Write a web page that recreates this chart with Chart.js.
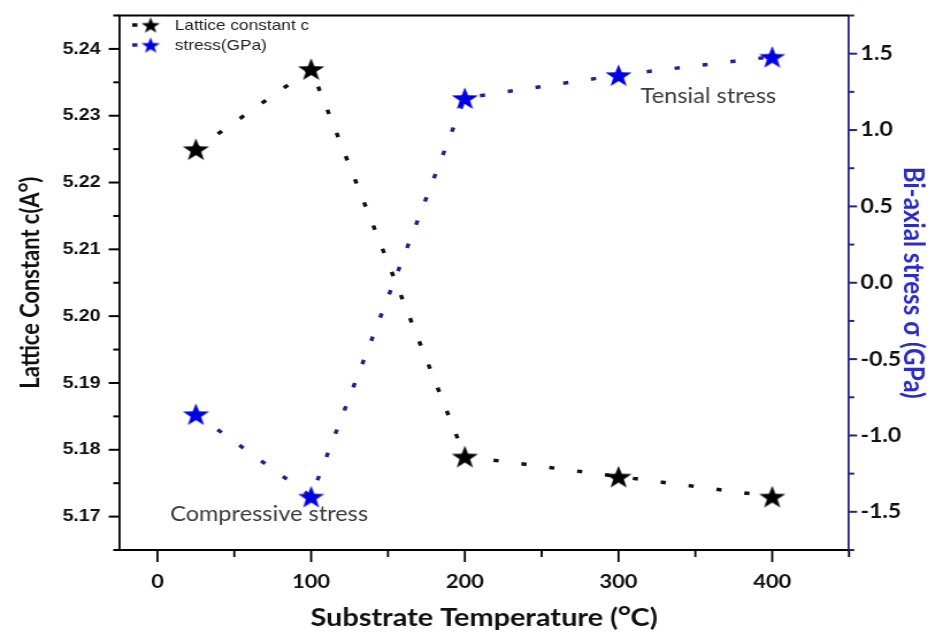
<!DOCTYPE html>
<html>
<head>
<meta charset="utf-8">
<script src="https://cdn.jsdelivr.net/npm/chart.js@4.4.1/dist/chart.umd.min.js"></script>
<style>
  html, body { margin: 0; padding: 0; background: #fff; overflow: hidden; }
  #wrap { width: 814px; height: 642px; transform: scaleX(1.15); transform-origin: 0 0; }
</style>
</head>
<body>
<div id="wrap"><canvas id="myChart" width="814" height="642"></canvas></div>
<script>
// substrate temperature (oC)
const temps = [25, 100, 200, 300, 400];
// lattice constant c (A)
const latticeC = [5.225, 5.237, 5.179, 5.176, 5.173];
// bi-axial stress (GPa)
const stressGPa = [-0.86, -1.40, 1.21, 1.36, 1.48];

const xTickLabels = [0, 100, 200, 300, 400];
const seriesNames = ["Lattice constant c", "stress(GPa)"];

const NAVY = '#22228a';
const BLUE_STAR = '#0000e6';
const LATO = 'Lato, "Open Sans", sans-serif';

// font size that makes a text as wide as wanted
function fitSize(text, weight, family, width) {
    let g = document.createElement('canvas').getContext('2d');
    g.font = weight + ' 100px ' + family;
    return Math.round(100 * width / g.measureText(text).width * 10) / 10;
}

function makeStar(size, color) {
    let c = document.createElement('canvas');
    c.width = size;
    c.height = size;
    let g = c.getContext('2d');
    let R = size / 2, r = R * 0.4, cx = size / 2, cy = size / 2 + size * 0.05;
    g.beginPath();
    for (let i = 0; i < 10; i++) {
        let a = -Math.PI / 2 + i * Math.PI / 5;
        let rad = (i % 2 === 0) ? R : r;
        let px = cx + Math.cos(a) * rad, py = cy + Math.sin(a) * rad;
        if (i === 0) g.moveTo(px, py); else g.lineTo(px, py);
    }
    g.closePath();
    g.fillStyle = color;
    g.fill();
    return c;
}

const blackStar = makeStar(24, '#000000');
const blueStar = makeStar(24, BLUE_STAR);
const blackStarSmall = makeStar(17, '#000000');
const blueStarSmall = makeStar(17, BLUE_STAR);

const xTitle = 'Substrate Temperature (\u1D3CC)';
const yTitle = 'Lattice Constant c(A\u1D3C)';
const y1Title = 'Bi-axial stress \u03C3 (GPa)';
const xTitleSize = fitSize(xTitle, 'bold', LATO, 302);
const yTitleSize = fitSize(yTitle, 'bold', LATO, 212);
const y1TitleSize = fitSize(y1Title, 'bold', LATO, 232);
const noteSize = fitSize('Compressive stress', 'normal', LATO, 172);

// tick marks, top frame, legend and notes
const extras = {
    id: 'extras',
    afterDraw(chart) {
        let ctx = chart.ctx;
        let area = chart.chartArea;
        ctx.save();

        let tickSpec = {
            x: { major: 12, minor: 7, color: '#000', w: 1.8 },
            y: { major: 9, minor: 5, color: '#000', w: 2 },
            y1: { major: 7, minor: 4.5, color: NAVY, w: 2 }
        };
        Object.keys(tickSpec).forEach(function (id) {
            let s = chart.scales[id];
            let spec = tickSpec[id];
            ctx.strokeStyle = spec.color;
            ctx.lineWidth = spec.w;
            s.ticks.forEach(function (t) {
                let p = s.getPixelForValue(t.value);
                let len = (t.label !== '' && t.label != null) ? spec.major : spec.minor;
                ctx.beginPath();
                if (id === 'x') {
                    ctx.moveTo(p, area.bottom);
                    ctx.lineTo(p, area.bottom + len);
                } else if (id === 'y') {
                    ctx.moveTo(area.left, p);
                    ctx.lineTo(area.left - len, p);
                } else {
                    ctx.moveTo(area.right, p);
                    ctx.lineTo(area.right + len, p);
                }
                ctx.stroke();
            });
        });

        // top frame
        ctx.strokeStyle = '#000';
        ctx.lineWidth = 2;
        ctx.beginPath();
        ctx.moveTo(area.left - 1, area.top);
        ctx.lineTo(area.right, area.top);
        ctx.stroke();

        // legend
        let rows = [
            { y: 25, color: '#111', star: blackStarSmall, text: seriesNames[0] },
            { y: 45, color: NAVY, star: blueStarSmall, text: seriesNames[1] }
        ];
        ctx.font = '15px "Liberation Sans", Arial, sans-serif';
        ctx.textBaseline = 'middle';
        ctx.textAlign = 'left';
        rows.forEach(function (r) {
            ctx.strokeStyle = r.color;
            ctx.lineWidth = 3.5;
            ctx.beginPath();
            ctx.moveTo(115, r.y);
            ctx.lineTo(119.5, r.y);
            ctx.stroke();
            ctx.drawImage(r.star, 131 - r.star.width / 2, r.y - r.star.height / 2);
            ctx.fillStyle = '#222';
            ctx.fillText(r.text, 152, r.y + 1);
        });

        // notes
        ctx.font = noteSize + 'px ' + LATO;
        ctx.fillStyle = '#3c3c3c';
        ctx.textAlign = 'center';
        ctx.fillText('Tensial stress', 616, 96);
        ctx.fillText('Compressive stress', 234, 514);

        ctx.restore();
    }
};

const ctx = document.getElementById('myChart').getContext('2d');
const myChart = new Chart(ctx, {
    type: 'line',
    data: {
        datasets: [{
            label: seriesNames[0],
            data: temps.map((t, i) => ({ x: t, y: latticeC[i] })),
            yAxisID: 'y',
            borderColor: '#111',
            borderWidth: 3.5,
            borderDash: [4.5, 20],
            pointStyle: blackStar,
            pointRadius: 12,
            fill: false,
            tension: 0
        }, {
            label: seriesNames[1],
            data: temps.map((t, i) => ({ x: t, y: stressGPa[i] })),
            yAxisID: 'y1',
            borderColor: NAVY,
            borderWidth: 3.5,
            borderDash: [4.5, 20],
            pointStyle: blueStar,
            pointRadius: 12,
            fill: false,
            tension: 0
        }]
    },
    options: {
        responsive: false,
        animation: false,
        events: [],
        layout: { padding: { top: 11, left: 14, right: 6, bottom: 9 } },
        plugins: {
            legend: { display: false },
            tooltip: { enabled: false }
        },
        scales: {
            x: {
                type: 'linear',
                min: -25,
                max: 450,
                afterFit: function (s) { s.height = 83; s.paddingLeft = 0; s.paddingRight = 0; },
                border: { display: true, color: '#000', width: 2 },
                grid: { drawOnChartArea: false, tickLength: 12, tickColor: 'rgba(0,0,0,0)' },
                ticks: {
                    stepSize: 50,
                    includeBounds: false,
                    autoSkip: false,
                    maxRotation: 0,
                    padding: 8,
                    color: '#111',
                    font: { family: LATO, size: 19, weight: 'bold' },
                    callback: function (v) { return xTickLabels.indexOf(v) >= 0 ? String(v) : ''; }
                },
                title: {
                    display: true,
                    text: xTitle,
                    color: '#111',
                    font: { family: LATO, size: xTitleSize, weight: 'bold' },
                    padding: 0
                }
            },
            y: {
                type: 'linear',
                position: 'left',
                min: 5.165,
                max: 5.245,
                afterFit: function (s) { s.width = 89.5; s.paddingTop = 0; s.paddingBottom = 0; },
                border: { display: true, color: '#000', width: 1.8 },
                grid: { drawOnChartArea: false, tickLength: 9, tickColor: 'rgba(0,0,0,0)' },
                ticks: {
                    stepSize: 0.005,
                    includeBounds: false,
                    autoSkip: false,
                    padding: 7,
                    color: '#111',
                    font: { family: '"Liberation Sans", Arial, sans-serif', size: 17, weight: 'bold' },
                    callback: function (v) {
                        let k = Math.round(v * 1000);
                        return k % 10 === 0 ? (k / 1000).toFixed(2) : '';
                    }
                },
                title: {
                    display: true,
                    text: yTitle,
                    color: '#111',
                    font: { family: LATO, size: yTitleSize, weight: 'bold' },
                    padding: 0
                }
            },
            y1: {
                type: 'linear',
                position: 'right',
                min: -1.75,
                max: 1.75,
                afterFit: function (s) { s.width = 69.7; s.paddingTop = 0; s.paddingBottom = 0; },
                border: { display: true, color: NAVY, width: 1.8 },
                grid: { drawOnChartArea: false, tickLength: 7, tickColor: 'rgba(0,0,0,0)' },
                ticks: {
                    stepSize: 0.25,
                    includeBounds: false,
                    autoSkip: false,
                    padding: 3,
                    color: '#111',
                    font: { family: LATO, size: 20, weight: 'bold' },
                    callback: function (v) {
                        let k = Math.round(v * 100);
                        return k % 50 === 0 ? (k / 100).toFixed(1) : '';
                    }
                },
                title: {
                    display: true,
                    text: y1Title,
                    color: '#2b2bc8',
                    font: { family: LATO, size: y1TitleSize, weight: 'bold' },
                    padding: 0
                }
            }
        }
    },
    plugins: [extras]
});
</script>
</body>
</html>
